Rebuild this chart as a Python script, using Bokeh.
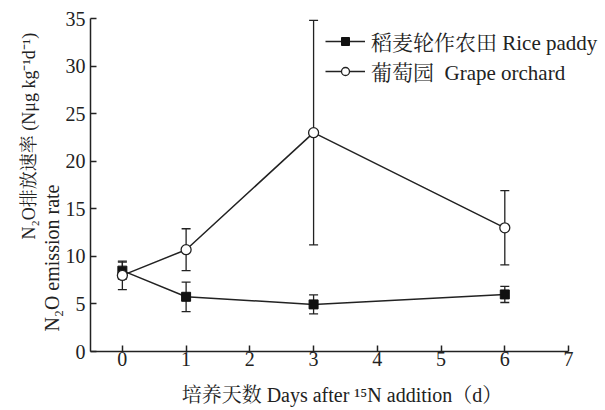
from bokeh.plotting import figure
from bokeh.models import ColumnDataSource, Whisker, TeeHead, Legend, LegendItem, FixedTicker, Title
from bokeh.embed import file_html
from bokeh.resources import INLINE

days = [0, 1, 3, 6]
rice = [8.5, 5.75, 4.95, 6.0]
rice_err = [0.9, 1.55, 1.0, 0.85]
grape = [8.0, 10.7, 23.0, 13.0]
grape_err = [1.5, 2.2, 11.8, 3.9]

x_ticks = [0, 1, 2, 3, 4, 5, 6, 7]
y_ticks = [0, 5, 10, 15, 20, 25, 30, 35]

x_label = "培养天数  Days after ¹⁵N addition（d）"
y_label_1 = "N₂O排放速率  (Nμg kg⁻¹d⁻¹)"
y_label_2 = "N₂O emission rate"
names = ["稻麦轮作农田 Rice paddy", "葡萄园  Grape orchard"]

FONT = "'Liberation Serif', 'Noto Serif CJK SC', 'Noto Sans CJK SC', serif"
TXT = "#222222"
FS = "20px"

p = figure(width=600, height=408, x_range=(-0.5, 7.47), y_range=(0, 35),
           output_backend="svg", toolbar_location=None,
           min_border_left=90, min_border_right=2, min_border_top=18, min_border_bottom=57)
p.outline_line_color = None
p.grid.visible = False
p.background_fill_color = "white"

for ax in (p.xaxis[0], p.yaxis[0]):
    ax.axis_line_color = "#222222"
    ax.axis_line_width = 1.5
    ax.major_tick_line_color = "#222222"
    ax.major_tick_line_width = 1.5
    ax.major_tick_in = 6
    ax.major_tick_out = 0
    ax.minor_tick_line_color = None
    ax.major_label_text_font = FONT
    ax.major_label_text_font_size = FS
    ax.major_label_text_color = TXT
p.xaxis.ticker = FixedTicker(ticks=x_ticks)
p.yaxis.ticker = FixedTicker(ticks=y_ticks)
p.xaxis.bounds = (-0.5, 7)
p.xaxis.major_label_standoff = 0
p.yaxis.major_label_standoff = 5
p.xaxis.axis_label = x_label
p.xaxis.axis_label_text_font = FONT
p.xaxis.axis_label_text_font_size = FS
p.xaxis.axis_label_text_color = TXT
p.xaxis.axis_label_text_font_style = "normal"
p.xaxis.axis_label_text_line_height = 0.9
p.xaxis.axis_label_standoff = 15

src_r = ColumnDataSource(dict(x=days, y=rice,
                              lo=[v - e for v, e in zip(rice, rice_err)],
                              hi=[v + e for v, e in zip(rice, rice_err)]))
src_g = ColumnDataSource(dict(x=days, y=grape,
                              lo=[v - e for v, e in zip(grape, grape_err)],
                              hi=[v + e for v, e in zip(grape, grape_err)]))

for src in (src_g, src_r):
    w = Whisker(source=src, base="x", upper="hi", lower="lo", line_color="#222222", line_width=1.3,
                upper_head=TeeHead(size=9, line_color="#222222", line_width=1.3),
                lower_head=TeeHead(size=9, line_color="#222222", line_width=1.3))
    p.add_layout(w)

lr = p.line("x", "y", source=src_r, line_color="#222222", line_width=1.5)
lg = p.line("x", "y", source=src_g, line_color="#222222", line_width=1.5)
sr = p.scatter("x", "y", source=src_r, marker="square", size=9, fill_color="#111111", line_color="#111111")
sg = p.scatter("x", "y", source=src_g, marker="circle", size=10, fill_color="white", line_color="#222222", line_width=1.3)

legend = Legend(items=[LegendItem(label=names[0], renderers=[lr, sr]),
                       LegendItem(label=names[1], renderers=[lg, sg])],
                location=(235, 265), orientation="vertical")
legend.label_text_font = FONT
legend.label_text_font_size = "21px"
legend.label_text_color = TXT
legend.glyph_width = 40
legend.glyph_height = 20
legend.label_height = 20
legend.label_standoff = 6
legend.spacing = 0
legend.padding = 0
legend.margin = 0
legend.border_line_color = None
legend.background_fill_alpha = 0
p.add_layout(legend, "center")

p.add_layout(Title(text=y_label_2, align="left", offset=20, standoff=0,
                   text_font=FONT, text_font_size=FS, text_color=TXT, text_font_style="normal"), "left")
p.add_layout(Title(text=y_label_1, align="left", offset=112, standoff=0,
                   text_font=FONT, text_font_size="18px", text_color=TXT, text_font_style="normal"), "left")

open("out.html", "w").write(file_html(p, INLINE))
